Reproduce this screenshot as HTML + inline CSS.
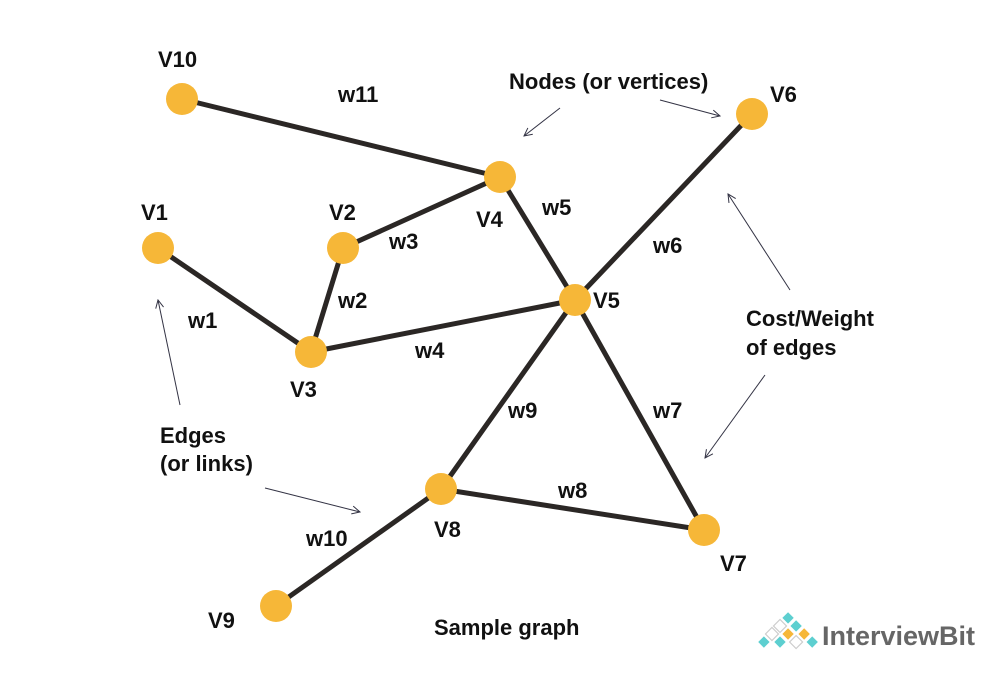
<!DOCTYPE html>
<html><head><meta charset="utf-8"><style>
html,body{margin:0;padding:0;background:#fff;}
svg{display:block;}
text{font-family:"Liberation Sans",sans-serif;font-size:22px;fill:#111;font-weight:bold;}
</style></head><body>
<svg width="1000" height="684" viewBox="0 0 1000 684" xmlns="http://www.w3.org/2000/svg">
<defs><marker id="a" markerWidth="10" markerHeight="10" refX="9" refY="5" orient="auto" markerUnits="userSpaceOnUse"><path d="M1,1 L9,5 L1,9" fill="none" stroke="#334" stroke-width="1"/></marker></defs>
<g stroke="#2b2725" stroke-width="5" stroke-linecap="round">
<line x1="182" y1="99" x2="500" y2="177"/>
<line x1="343" y1="248" x2="500" y2="177"/>
<line x1="343" y1="248" x2="311" y2="352"/>
<line x1="158" y1="248" x2="311" y2="352"/>
<line x1="311" y1="352" x2="575" y2="300"/>
<line x1="500" y1="177" x2="575" y2="300"/>
<line x1="752" y1="114" x2="575" y2="300"/>
<line x1="575" y1="300" x2="704" y2="530"/>
<line x1="575" y1="300" x2="441" y2="489"/>
<line x1="441" y1="489" x2="704" y2="530"/>
<line x1="441" y1="489" x2="276" y2="606"/>
</g>
<g fill="#f6b738">
<circle cx="182" cy="99" r="16"/><circle cx="500" cy="177" r="16"/><circle cx="158" cy="248" r="16"/>
<circle cx="343" cy="248" r="16"/><circle cx="311" cy="352" r="16"/><circle cx="575" cy="300" r="16"/>
<circle cx="752" cy="114" r="16"/><circle cx="704" cy="530" r="16"/><circle cx="441" cy="489" r="16"/>
<circle cx="276" cy="606" r="16"/>
</g>
<g stroke="#334" stroke-width="1" fill="none">
<line x1="560" y1="108" x2="524" y2="136" marker-end="url(#a)"/>
<line x1="660" y1="100" x2="720" y2="116" marker-end="url(#a)"/>
<line x1="180" y1="405" x2="158" y2="300" marker-end="url(#a)"/>
<line x1="265" y1="488" x2="360" y2="512" marker-end="url(#a)"/>
<line x1="790" y1="290" x2="728" y2="194" marker-end="url(#a)"/>
<line x1="765" y1="375" x2="705" y2="458" marker-end="url(#a)"/>
</g>
<text x="158" y="67">V10</text>
<text x="338" y="102">w11</text>
<text x="509" y="89">Nodes (or vertices)</text>
<text x="770" y="102">V6</text>
<text x="141" y="220">V1</text>
<text x="329" y="220">V2</text>
<text x="389" y="249">w3</text>
<text x="476" y="227">V4</text>
<text x="542" y="215">w5</text>
<text x="653" y="253">w6</text>
<text x="338" y="308">w2</text>
<text x="188" y="328">w1</text>
<text x="593" y="308">V5</text>
<text x="746" y="326">Cost/Weight</text>
<text x="746" y="355">of edges</text>
<text x="415" y="358">w4</text>
<text x="290" y="397">V3</text>
<text x="508" y="418">w9</text>
<text x="653" y="418">w7</text>
<text x="160" y="443">Edges</text>
<text x="160" y="471">(or links)</text>
<text x="558" y="498">w8</text>
<text x="306" y="546">w10</text>
<text x="434" y="537">V8</text>
<text x="720" y="571">V7</text>
<text x="208" y="628">V9</text>
<text x="434" y="635">Sample graph</text>
<g transform="translate(757,611) scale(1.15)">
<g stroke="#fff" stroke-width="1">
<rect x="23" y="2" width="8" height="8" fill="#5dcfd0" transform="rotate(45 27 6)"/>
<rect x="16" y="9" width="8" height="8" fill="#fff" stroke="#ccc" transform="rotate(45 20 13)"/>
<rect x="30" y="9" width="8" height="8" fill="#5dcfd0" transform="rotate(45 34 13)"/>
<rect x="9" y="16" width="8" height="8" fill="#fff" stroke="#ccc" transform="rotate(45 13 20)"/>
<rect x="23" y="16" width="8" height="8" fill="#f6b738" transform="rotate(45 27 20)"/>
<rect x="37" y="16" width="8" height="8" fill="#f6b738" transform="rotate(45 41 20)"/>
<rect x="2" y="23" width="8" height="8" fill="#5dcfd0" transform="rotate(45 6 27)"/>
<rect x="16" y="23" width="8" height="8" fill="#5dcfd0" transform="rotate(45 20 27)"/>
<rect x="30" y="23" width="8" height="8" fill="#fff" stroke="#ccc" transform="rotate(45 34 27)"/>
<rect x="44" y="23" width="8" height="8" fill="#5dcfd0" transform="rotate(45 48 27)"/>
</g>
</g>
<text x="822" y="645" style="font-size:27px;fill:#666;font-weight:bold">InterviewBit</text>
</svg>
</body></html>
